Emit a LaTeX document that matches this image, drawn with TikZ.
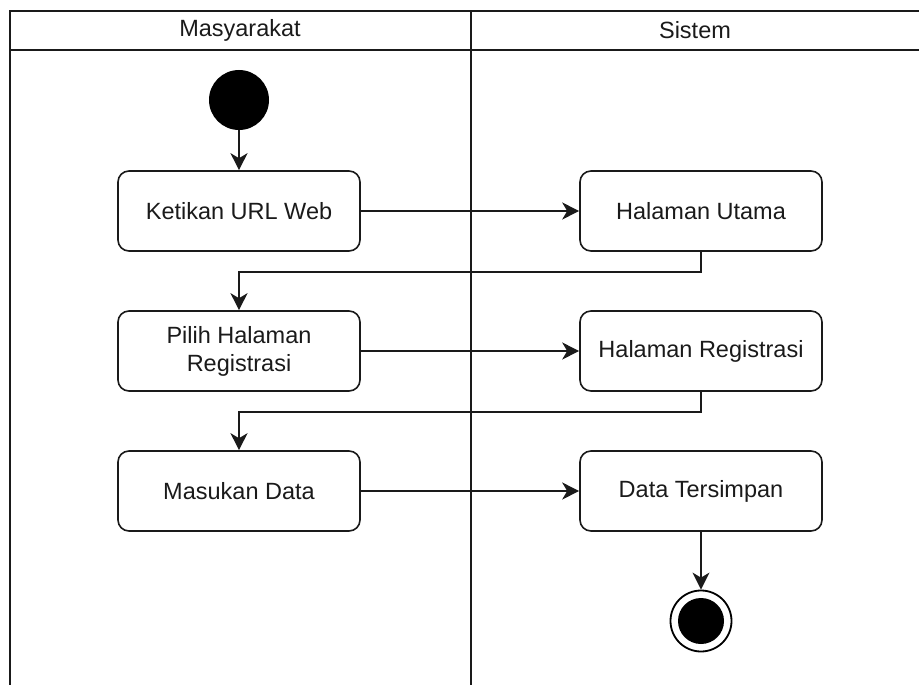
\documentclass[tikz,border=0pt]{standalone}
\usepackage{fontspec}
\setmainfont{Liberation Sans}
\usetikzlibrary{arrows.meta}
\definecolor{ink}{HTML}{1A1A1A}
\begin{document}
\begin{tikzpicture}[x=1pt,y=-1pt,
  act/.style={draw=ink,line width=1.6pt,rounded corners=11pt,minimum width=242pt,minimum height=80pt,align=center,font=\fontsize{23.5}{28}\selectfont,text=ink,inner sep=0pt},
  lane/.style={draw=ink,line width=1.6pt},
  flow/.style={draw=ink,line width=1.5pt,-{Stealth[length=17pt,width=17pt,inset=5pt]}},
  lanetitle/.style={font=\fontsize{23.5}{28}\selectfont,text=ink,inner sep=0pt}]
\useasboundingbox (0,0) rectangle (919,685);
% swimlanes
\draw[lane] (10,685) -- (10,11) -- (919,11);
\draw[lane] (10,50) -- (919,50);
\draw[lane] (471,11) -- (471,685);
\node[lanetitle] (t1) at (240,30) {Masyarakat};
\node[lanetitle] (t2) at (695,30) {Sistem};
% nodes
\node[circle,fill=black,minimum size=60pt,inner sep=0pt] (start) at (239,100) {};
\node[act] (k1) at (239,211) {Ketikan URL Web};
\node[act] (h1) at (701,211) {Halaman Utama};
\node[act] (p2) at (239,351) {Pilih Halaman\\Registrasi};
\node[act] (h2) at (701,351) {Halaman Registrasi};
\node[act] (m3) at (239,491) {Masukan Data};
\node[act] (d3) at (701,491) {Data Tersimpan};
\node[circle,draw=black,line width=1.8pt,minimum size=61pt,inner sep=0pt] (end) at (701,621) {};
\node[circle,fill=black,minimum size=46pt,inner sep=0pt] (endin) at (end) {};
% connectors
\draw[flow] (start) -- (k1);
\draw[flow] (k1.east) -- (h1.west);
\draw[flow] (h1.south) -- ++(0,20) -| (p2.north);
\draw[flow] (p2.east) -- (h2.west);
\draw[flow] (h2.south) -- ++(0,20) -| (m3.north);
\draw[flow] (m3.east) -- (d3.west);
\draw[flow] (d3.south) -- (end.north);
\end{tikzpicture}
\end{document}
